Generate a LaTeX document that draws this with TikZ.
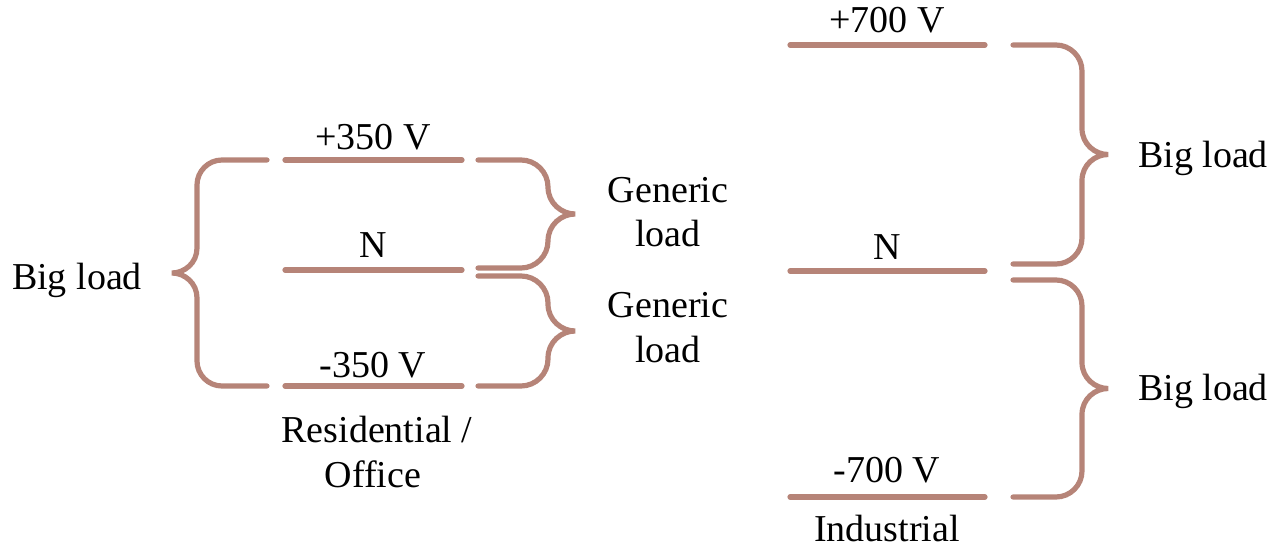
\documentclass[tikz,border=0pt]{standalone}
\usepackage{fontspec}
\setmainfont{Liberation Serif}
\usepackage{xcolor}
\usepackage{tikz}
\usetikzlibrary{calc, positioning}

\definecolor{wirebrown}{RGB}{182,132,120}

% brace: open end x, top y, bottom y, back x, tip x
\newcommand{\loadbrace}[5]{%
  \pgfmathsetmacro\bdx{#5-#4}
  \pgfmathsetmacro\bh{abs(\bdx)}
  \pgfmathsetmacro\bym{(#2+#3)/2}
  \draw[wire] (#1,#2) -- ({#4-\bdx},#2)
    .. controls ({#4-0.45*\bdx},#2) and (#4,{#2+0.45*\bh}) .. (#4,{#2+\bh})
    -- (#4,{\bym-\bh})
    .. controls (#4,{\bym-0.4*\bh}) and ({#4+0.5*\bdx},\bym) .. (#5,\bym)
    .. controls ({#4+0.5*\bdx},\bym) and (#4,{\bym+0.4*\bh}) .. (#4,{\bym+\bh})
    -- (#4,{#3-\bh})
    .. controls (#4,{#3-0.45*\bh}) and ({#4-0.45*\bdx},#3) .. ({#4-\bdx},#3)
    -- (#1,#3);
}

\tikzset{
  wire/.style={line width=2.6pt, color=wirebrown, line cap=round},
  lbl/.style={anchor=base, inner sep=0pt, font=\fontsize{19}{22}\selectfont}
}

\begin{document}
\begin{tikzpicture}[x=0.5pt, y=-0.5pt]
    \useasboundingbox (0,0) rectangle (1276,550);

    % Residential / Office bus
    \draw[wire] (285,160) -- (462,160);
    \draw[wire] (285,270) -- (462,270);
    \draw[wire] (285,386) -- (462,386);
    \node[lbl] (p350) at (373,150) {+350 V};
    \node[lbl] (nres) at (373,258) {N};
    \node[lbl] (m350) at (373,378) {-350 V};
    \node[lbl] (resi) at (377,443) {Residential /};
    \node[lbl] (offi) at (373,488) {Office};

    % braces of the residential bus
    \loadbrace{267}{160}{386}{197}{172}
    \loadbrace{478}{160}{268}{548}{575}
    \loadbrace{478}{276}{386}{548}{575}
    \node[lbl] (lbig) at (77,290) {Big load};
    \node[lbl] (gen1) at (668,203) {Generic};
    \node[lbl] (lod1) at (668,247) {load};
    \node[lbl] (gen2) at (668,318) {Generic};
    \node[lbl] (lod2) at (668,363) {load};

    % Industrial bus
    \draw[wire] (790,45) -- (985,45);
    \draw[wire] (790,271) -- (985,271);
    \draw[wire] (790,497) -- (985,497);
    \node[lbl] (p700) at (887,33) {+700 V};
    \node[lbl] (nind) at (887,260) {N};
    \node[lbl] (m700) at (887,483) {-700 V};
    \node[lbl] (indu) at (887,542) {Industrial};

    % braces of the industrial bus
    \loadbrace{1013}{45}{264}{1082}{1108}
    \loadbrace{1013}{280}{497}{1082}{1108}
    \node[lbl] (rbig1) at (1203,168) {Big load};
    \node[lbl] (rbig2) at (1203,401) {Big load};
\end{tikzpicture}
\end{document}
